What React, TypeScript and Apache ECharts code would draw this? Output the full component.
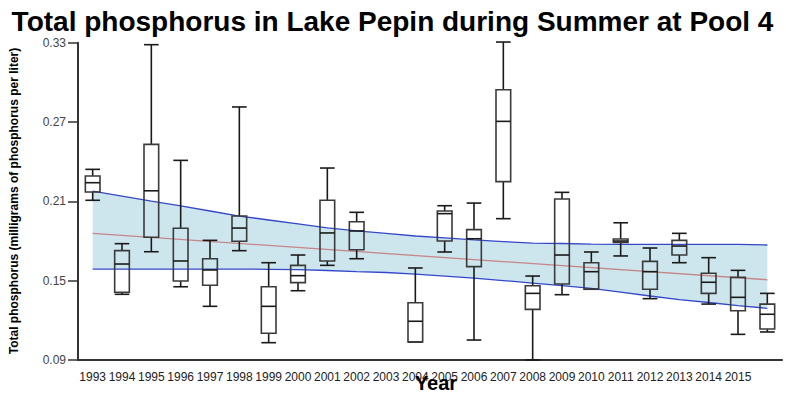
import React, { useEffect, useRef } from "react";
import * as echarts from "echarts";

const years = [
  "1993", "1994", "1995", "1996", "1997", "1998", "1999", "2000", "2001", "2002", "2003", "2004",
  "2005", "2006", "2007", "2008", "2009", "2010", "2011", "2012", "2013", "2014", "2015", "2016",
];
const xTickLabels = [
  "1993", "1994", "1995", "1996", "1997", "1998", "1999", "2000", "2001", "2002", "2003", "2004",
  "2005", "2006", "2007", "2008", "2009", "2010", "2011", "2012", "2013", "2014", "2015", "",
];

// [year, min, Q1, median, Q3, max]
const boxYears = [
  "1993", "1994", "1995", "1996", "1997", "1998", "1999", "2000", "2001", "2002", "2004",
  "2005", "2006", "2007", "2008", "2009", "2010", "2011", "2012", "2013", "2014", "2015", "2016",
];
const boxMin = [0.2108, 0.1397, 0.1719, 0.1454, 0.1306, 0.1727, 0.1031, 0.1424, 0.1616, 0.1666, 0.1036,
  0.1717, 0.1051, 0.1969, 0.0900, 0.1394, 0.1435, 0.1687, 0.1364, 0.1636, 0.1323, 0.1094, 0.1112];
const boxQ1 = [0.2171, 0.1412, 0.1828, 0.1497, 0.1465, 0.1798, 0.1102, 0.1485, 0.1649, 0.1734, 0.1036,
  0.1800, 0.1606, 0.2249, 0.1283, 0.1475, 0.1435, 0.1790, 0.1435, 0.1694, 0.1404, 0.1273, 0.1134];
const boxMedian = [0.2241, 0.1626, 0.2180, 0.1649, 0.1581, 0.1898, 0.1306, 0.1538, 0.1861, 0.1876, 0.1193,
  0.2007, 0.1817, 0.2705, 0.1404, 0.1694, 0.1568, 0.1800, 0.1568, 0.1762, 0.1488, 0.1374, 0.1246];
const boxQ3 = [0.2292, 0.1727, 0.2531, 0.1896, 0.1666, 0.1989, 0.1454, 0.1616, 0.2108, 0.1946, 0.1333,
  0.2027, 0.1886, 0.2944, 0.1462, 0.2118, 0.1636, 0.1815, 0.1646, 0.1805, 0.1556, 0.1525, 0.1323];
const boxMax = [0.2342, 0.1780, 0.3285, 0.2410, 0.1805, 0.2814, 0.1636, 0.1694, 0.2352, 0.2017, 0.1596,
  0.2067, 0.2087, 0.3305, 0.1535, 0.2168, 0.1717, 0.1938, 0.1747, 0.1858, 0.1674, 0.1578, 0.1404];

// confidence band and trend line
const bandUpper = [0.2178, 0.2140, 0.2102, 0.2065, 0.2027, 0.1989, 0.1959, 0.1929, 0.1899, 0.1876, 0.1857, 0.1838,
  0.1823, 0.1808, 0.1796, 0.1784, 0.1781, 0.1777, 0.1775, 0.1774, 0.1774, 0.1774, 0.1774, 0.1770];
const bandLower = [0.1588, 0.1588, 0.1588, 0.1588, 0.1588, 0.1588, 0.1586, 0.1584, 0.1577, 0.1569, 0.1562, 0.1550,
  0.1535, 0.1520, 0.1501, 0.1482, 0.1463, 0.1441, 0.1414, 0.1384, 0.1357, 0.1335, 0.1312, 0.1291];
const trendYears = ["1993", "2016"];
const trendValues = [0.1858, 0.1507];

const yTicks = { min: 0.09, max: 0.33, interval: 0.06 };

const FONT = "'Liberation Sans', Arial, sans-serif";

export default function App() {
  const ref = useRef<HTMLDivElement>(null);
  useEffect(() => {
    if (!ref.current) return;
    const chart = echarts.init(ref.current, null, { renderer: "svg" });
    const boxData = boxYears.map((y, i) => [y, boxMin[i], boxQ1[i], boxMedian[i], boxQ3[i], boxMax[i]]);
    const bandDiff = bandUpper.map((u, i) => +(u - bandLower[i]).toFixed(4));
    const option: any = {
      animation: false,
      grid: { left: 78, right: 4, top: 42.7, bottom: 33, containLabel: false },
      xAxis: {
        type: "category",
        data: years,
        boundaryGap: true,
        axisLine: { lineStyle: { color: "#333", width: 2 } },
        axisTick: { alignWithLabel: true, interval: 0, length: 9, lineStyle: { color: "#333", width: 1.5 } },
        axisLabel: {
          interval: 0,
          margin: 11,
          fontSize: 12,
          color: "#222",
          fontFamily: FONT,
          formatter: (_v: string, i: number) => xTickLabels[i],
        },
        splitLine: { show: false },
      },
      yAxis: {
        type: "value",
        min: yTicks.min,
        max: yTicks.max,
        interval: yTicks.interval,
        axisLine: { show: true, lineStyle: { color: "#333", width: 2 } },
        axisTick: { show: true, length: 10, lineStyle: { color: "#333", width: 1.5 } },
        axisLabel: {
          margin: 12,
          fontSize: 12,
          color: "#444",
          fontFamily: FONT,
          formatter: (v: number) => v.toFixed(2),
        },
        splitLine: { show: false },
      },
      series: [
        {
          type: "line",
          data: bandLower,
          stack: "ci",
          symbol: "none",
          lineStyle: { opacity: 0 },
          z: 1,
        },
        {
          type: "line",
          data: bandDiff,
          stack: "ci",
          symbol: "none",
          lineStyle: { opacity: 0 },
          areaStyle: { color: "#cde6ee", opacity: 1 },
          z: 1,
        },
        {
          type: "line",
          data: bandUpper,
          symbol: "none",
          lineStyle: { color: "#3448c8", width: 1.3 },
          z: 2,
        },
        {
          type: "line",
          data: bandLower,
          symbol: "none",
          lineStyle: { color: "#3448c8", width: 1.3 },
          z: 2,
        },
        {
          type: "line",
          data: trendYears.map((y, i) => [y, trendValues[i]]),
          symbol: "none",
          lineStyle: { color: "#c4878a", width: 1.3 },
          z: 2,
        },
        {
          type: "custom",
          data: boxData,
          encode: { x: 0, y: [1, 2, 3, 4, 5] },
          z: 3,
          renderItem: (params: any, api: any) => {
            const xi = api.value(0);
            const pMin = api.coord([xi, api.value(1)]);
            const yQ1 = api.coord([xi, api.value(2)])[1];
            const yMed = api.coord([xi, api.value(3)])[1];
            const yQ3 = api.coord([xi, api.value(4)])[1];
            const yMax = api.coord([xi, api.value(5)])[1];
            const cx = pMin[0];
            const yMin = pMin[1];
            const w = api.size([1, 0])[0] * 0.5;
            const h = w / 2;
            const wStyle = { stroke: "#1a1a1a", lineWidth: 1.6, fill: null };
            const bStyle = { stroke: "#3a3a3a", lineWidth: 1.6, fill: null };
            return {
              type: "group",
              children: [
                { type: "line", shape: { x1: cx, y1: yMax, x2: cx, y2: yQ3 }, style: wStyle },
                { type: "line", shape: { x1: cx, y1: yQ1, x2: cx, y2: yMin }, style: wStyle },
                { type: "line", shape: { x1: cx - h, y1: yMax, x2: cx + h, y2: yMax }, style: wStyle },
                { type: "line", shape: { x1: cx - h, y1: yMin, x2: cx + h, y2: yMin }, style: wStyle },
                { type: "rect", shape: { x: cx - h, y: yQ3, width: w, height: yQ1 - yQ3 }, style: bStyle },
                { type: "line", shape: { x1: cx - h, y1: yMed, x2: cx + h, y2: yMed }, style: wStyle },
              ],
            };
          },
        },
      ],
      graphic: [
        {
          type: "text",
          x: 392.5,
          y: 21,
          z: 10,
          style: {
            text: "Total phosphorus in Lake Pepin during Summer at Pool 4",
            font: `bold 28px ${FONT}`,
            fill: "#000",
            textAlign: "center",
            textVerticalAlign: "middle",
          },
        },
        {
          type: "text",
          x: 436,
          y: 383,
          z: 10,
          style: {
            text: "Year",
            font: `bold 20px ${FONT}`,
            fill: "#000",
            textAlign: "center",
            textVerticalAlign: "middle",
          },
        },
        {
          type: "text",
          x: 14,
          y: 201,
          rotation: Math.PI / 2,
          z: 10,
          style: {
            text: "Total phosphorus (milligrams of phosphorus per liter)",
            font: `bold 12px ${FONT}`,
            fill: "#000",
            textAlign: "center",
            textVerticalAlign: "middle",
          },
        },
      ],
    };
    chart.setOption(option);
    return () => chart.dispose();
  }, []);
  return (
    <div
      ref={ref}
      style={{ position: "fixed", left: 0, top: 0, width: 786, height: 393, background: "#fff" }}
    />
  );
}
